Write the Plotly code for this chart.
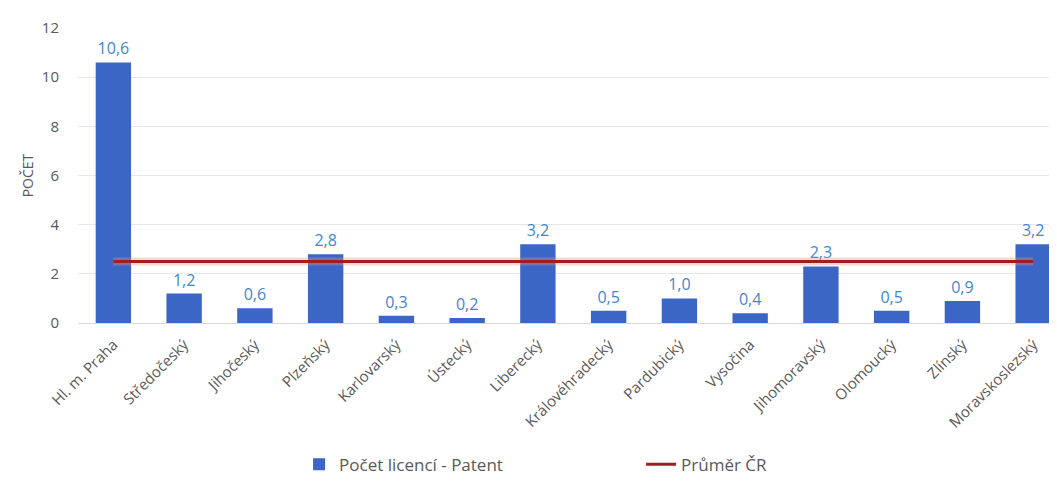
import plotly.graph_objects as go

categories = ["Hl. m. Praha", "Středočeský", "Jihočeský", "Plzeňský", "Karlovarský",
              "Ústecký", "Liberecký", "Královéhradecký", "Pardubický", "Vysočina",
              "Jihomoravský", "Olomoucký", "Zlínský", "Moravskoslezský"]
licence_patent = [10.6, 1.2, 0.6, 2.8, 0.3, 0.2, 3.2, 0.5, 1.0, 0.4, 2.3, 0.5, 0.9, 3.2]
prumer_cr = [2.5] * len(categories)
y_ticks = [0, 2, 4, 6, 8, 10, 12]

labels = [f"{v:.1f}".replace(".", ",") for v in licence_patent]
xpos = list(range(len(categories)))

fig = go.Figure()
fig.add_trace(go.Bar(
    x=xpos, y=licence_patent, name="Počet licencí - Patent",
    marker=dict(color="#3B66C6", line=dict(width=0)),
    width=0.5,
    text=labels, textposition="outside",
    textfont=dict(color="#3F86D0", size=16, family="Open Sans"),
    cliponaxis=False,
))
fig.add_trace(go.Scatter(
    x=xpos, y=prumer_cr, mode="lines",
    line=dict(color="rgba(240,140,140,0.35)", width=8),
    showlegend=False, hoverinfo="skip",
))
fig.add_trace(go.Scatter(
    x=xpos, y=prumer_cr, mode="lines", name="Průměr ČR",
    line=dict(color="#A01E22", width=3),
))

fig.update_layout(
    width=1057, height=481,
    margin=dict(l=70, r=0, t=20, b=166),
    paper_bgcolor="white", plot_bgcolor="white",
    font=dict(family="Open Sans", size=15, color="#595959"),
    showlegend=True,
    legend=dict(orientation="h", x=0.224, xanchor="left", y=-0.48, yanchor="middle",
                font=dict(size=17, color="#595959"), entrywidth=297),
    bargap=0.5,
)
fig.update_xaxes(
    tickmode="array", tickvals=xpos, ticktext=categories,
    tickangle=-45, range=[-0.5, 13.45], automargin=False,
    ticks="outside", ticklen=6, tickcolor="white",
    showgrid=False, showline=True, linecolor="#D9D9D9", linewidth=1,
    tickfont=dict(size=15, color="#595959"),
)
fig.update_yaxes(
    range=[0, 12], tickvals=y_ticks, showgrid=True, gridcolor="#E7E7E7",
    zeroline=False, automargin=False, ticklabelstandoff=18,
    title=dict(text="POČET", font=dict(size=14, color="#595959"), standoff=4),
    tickfont=dict(size=15, color="#595959"),
)

fig.write_html("out.html")
